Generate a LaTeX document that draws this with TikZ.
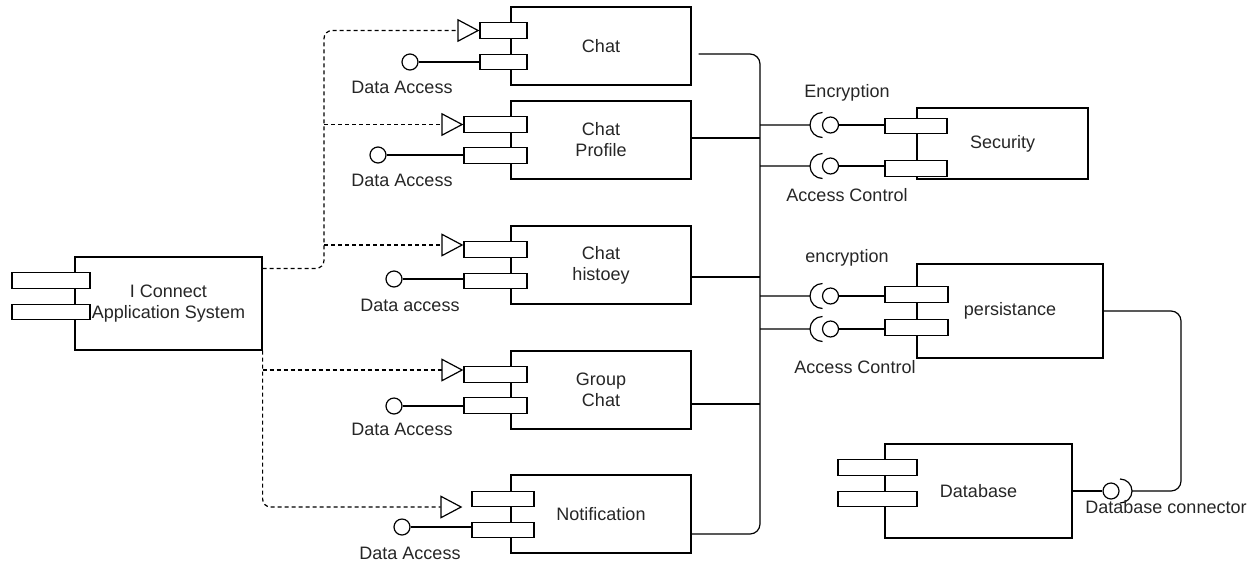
\documentclass[tikz,border=0pt]{standalone}
\usepackage{fontspec}
\setmainfont{Liberation Sans}
\usetikzlibrary{arrows.meta,calc}
\begin{document}
\begin{tikzpicture}[x=1pt,y=-1pt,
 every node/.style={font=\fontsize{18}{21}\selectfont, text=black!85},
 comp/.style={draw, line width=1.2pt, fill=white, inner sep=0pt, align=center},
 port/.style={draw, line width=1.2pt, fill=white, inner sep=0pt, minimum height=15.5pt},
 lolli/.style={draw, circle, line width=1.2pt, fill=white, inner sep=0pt, minimum size=16pt},
 lbl/.style={inner sep=0pt, align=center},
 conn/.style={line width=1.2pt},
 dep/.style={line width=1.2pt, dash pattern=on 4pt off 3pt, -{Triangle[open, length=22pt, width=23pt, line width=1.2pt, fill=white]}},
]
\useasboundingbox (0,0) rectangle (1260,566);

% components
\node[comp, minimum width=187pt, minimum height=93pt] (app) at (168.5,303.5) {};
\node[comp, minimum width=180pt, minimum height=78pt] (chat) at (601,46) {Chat};
\node[comp, minimum width=180pt, minimum height=78pt] (prof) at (601,140) {Chat\\Profile};
\node[comp, minimum width=180pt, minimum height=78pt] (hist) at (601,265) {Chat\\histoey};
\node[comp, minimum width=180pt, minimum height=78pt] (grp) at (601,390) {Group\\Chat};
\node[comp, minimum width=180pt, minimum height=78pt] (notif) at (601,514) {Notification};
\node[comp, minimum width=171pt, minimum height=71pt] (sec) at (1002.5,143.5) {Security};
\node[comp, minimum width=186pt, minimum height=94pt] (pers) at (1010,311) {persistance};
\node[comp, minimum width=187pt, minimum height=94pt] (db) at (978.5,491) {Database};

% ports
\node[port, minimum width=78pt] (appp1) at (51,280.5) {};
\node[port, minimum width=78pt] (appp2) at (51,312) {};
\node[lbl] (applbl) at (app.center) {I Connect\\Application System};
\node[port, minimum width=47pt] (chatp1) at (503.5,30.5) {};
\node[port, minimum width=47pt] (chatp2) at (503.5,62) {};
\node[port, minimum width=63pt] (profp1) at (495.5,124.5) {};
\node[port, minimum width=63pt] (profp2) at (495.5,155.5) {};
\node[port, minimum width=63pt] (histp1) at (495.5,249.5) {};
\node[port, minimum width=63pt] (histp2) at (495.5,281) {};
\node[port, minimum width=63pt] (grpp1) at (495.5,374.5) {};
\node[port, minimum width=63pt] (grpp2) at (495.5,405.5) {};
\node[port, minimum width=62pt] (notp1) at (503,499) {};
\node[port, minimum width=62pt] (notp2) at (503,530) {};
\node[port, minimum width=62pt] (secp1) at (916,126) {};
\node[port, minimum width=62pt] (secp2) at (916,168.5) {};
\node[port, minimum width=63pt] (perp1) at (916.5,294.5) {};
\node[port, minimum width=63pt] (perp2) at (916.5,327.5) {};
\node[port, minimum width=79pt] (dbp1) at (877.5,467.5) {};
\node[port, minimum width=79pt] (dbp2) at (877.5,499) {};

% data access lollipops
\node[lolli] (chatDA) at (410,62) {};
\node[lolli] (profDA) at (378,155) {};
\node[lolli] (histDA) at (394,279) {};
\node[lolli] (grpDA) at (394,406) {};
\node[lolli] (notDA) at (402,527) {};
\draw[conn] (chatDA) -- (chatDA -| chatp2.west);
\draw[conn] (profDA) -- (profDA -| profp2.west);
\draw[conn] (histDA) -- (histDA -| histp2.west);
\draw[conn] (grpDA) -- (grpDA -| grpp2.west);
\draw[conn] (notDA) -- (notDA -| notp2.west);
\node[lbl] (l1) at (402,87) {Data Access};
\node[lbl] (l2) at (402,180) {Data Access};
\node[lbl] (l3) at (410,305) {Data access};
\node[lbl] (l4) at (402,429) {Data Access};
\node[lbl] (l5) at (410,553) {Data Access};

% dependencies (dashed)
\coordinate (dvA) at (324,0);
\draw[dep, rounded corners=8pt] ([yshift=-12pt]app.north east) -| (dvA |- chatp1.west) -- (chatp1.west);
\draw[dep] (dvA |- profp1.west) -- (profp1.west);
\coordinate (ht) at ([yshift=4.5pt]histp1.west);
\draw[dep] (dvA |- ht) -- (ht);
\coordinate (gt) at ([yshift=4.5pt]grpp1.west);
\draw[dep] (app.south east |- gt) -- (gt);
\coordinate (nt2) at ([shift={(-9,8)}]notp1.west);
\draw[dep, rounded corners=8pt] (app.south east) |- (nt2);

% bus
\coordinate (bus) at (760,0);
\coordinate (ct) at ($(chat.east)+(7,8)$);
\coordinate (nt) at ($(notif.east)+(0,20)$);
\draw[conn, rounded corners=10pt] (ct) -| (bus |- nt) -- (nt);
\coordinate (pe) at ($(prof.east)+(0,-2)$);
\draw[conn] (pe) -- (bus |- pe);
\coordinate (he) at ($(hist.east)+(0,12)$);
\draw[conn] (he) -- (bus |- he);
\coordinate (ge) at ($(grp.east)+(0,14)$);
\draw[conn] (ge) -- (bus |- ge);

% provided/required interfaces on the right
\node[lolli] (secE) at (830.5,125) {};
\node[lolli] (secA) at (830.5,166) {};
\node[lolli] (perE) at (830.5,296) {};
\node[lolli] (perA) at (830.5,329) {};
\foreach \n in {secE,secA,perE,perA}{
  \coordinate (s) at ($(\n)+(-20.5,0)$);
  \draw[conn] (bus |- s) -- (s) arc[start angle=180, end angle=90, radius=12.5];
  \draw[conn] (s) arc[start angle=180, end angle=270, radius=12.5];
}
\draw[conn] (secE) -- (secE -| secp1.west);
\draw[conn] (secA) -- (secA -| secp2.west);
\draw[conn] (perE) -- (perE -| perp1.west);
\draw[conn] (perA) -- (perA -| perp2.west);
\node[lbl] (t1) at (847,93) {Encryption};
\node[lbl] (t2) at (847,195) {Access Control};
\node[lbl] (t3) at (847,258) {encryption};
\node[lbl] (t4) at (855,367) {Access Control};

% database connector
\node[lolli] (dbC) at (1111,491) {};
\draw[conn] (db.east) -- (dbC.west);
\coordinate (dsk) at (1132,491);
\draw[conn] (dsk) arc[start angle=0, end angle=90, radius=12];
\draw[conn] (dsk) arc[start angle=0, end angle=-90, radius=12];
\coordinate (pr) at (1181,0);
\draw[conn, rounded corners=10pt] (dsk) -| (pr |- pers.east) -- (pers.east);
\node[lbl] (t5) at (1166,507) {Database connector};
\end{tikzpicture}
\end{document}
